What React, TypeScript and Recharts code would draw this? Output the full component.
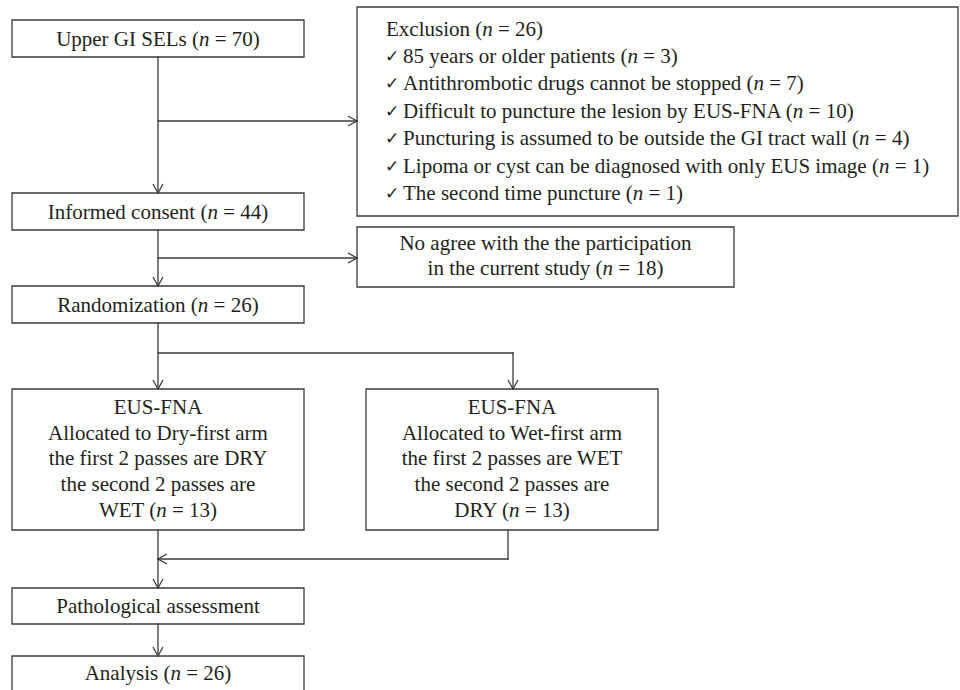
import React from 'react';
import { ComposedChart, XAxis, YAxis, Scatter, ReferenceArea, ReferenceLine } from 'recharts';

const WIDTH = 960;
const HEIGHT = 690;

// Flowchart nodes (layout in the chart's own coordinate space)
const boxes = [
  { id: 'upper', x1: 12, x2: 304, y1: 20, y2: 57 },
  { id: 'exclusion', x1: 357, x2: 958, y1: 7, y2: 216 },
  { id: 'consent', x1: 12, x2: 304, y1: 193, y2: 230 },
  { id: 'noAgree', x1: 357, x2: 734, y1: 227, y2: 287 },
  { id: 'random', x1: 12, x2: 304, y1: 286, y2: 323 },
  { id: 'dry', x1: 12, x2: 304, y1: 389, y2: 530 },
  { id: 'wet', x1: 366, x2: 658, y1: 389, y2: 530 },
  { id: 'patho', x1: 12, x2: 304, y1: 588, y2: 624 },
  { id: 'analysis', x1: 12, x2: 304, y1: 656, y2: 693 },
];

// Centered labels
const centeredTexts = [
  { x: 158, y: 38.5, text: 'Upper GI SELs (n = 70)' },
  { x: 158, y: 211.5, text: 'Informed consent (n = 44)' },
  { x: 545.5, y: 243, text: 'No agree with the the participation' },
  { x: 545.5, y: 268, text: 'in the current study (n = 18)' },
  { x: 158, y: 304.5, text: 'Randomization (n = 26)' },
  { x: 158, y: 407, text: 'EUS-FNA' },
  { x: 158, y: 433, text: 'Allocated to Dry-first arm' },
  { x: 158, y: 458, text: 'the first 2 passes are DRY' },
  { x: 158, y: 484, text: 'the second 2 passes are' },
  { x: 158, y: 510, text: 'WET (n = 13)' },
  { x: 512, y: 407, text: 'EUS-FNA' },
  { x: 512, y: 433, text: 'Allocated to Wet-first arm' },
  { x: 512, y: 458, text: 'the first 2 passes are WET' },
  { x: 512, y: 484, text: 'the second 2 passes are' },
  { x: 512, y: 510, text: 'DRY (n = 13)' },
  { x: 158, y: 606, text: 'Pathological assessment' },
  { x: 158, y: 673, text: 'Analysis (n = 26)' },
];

// Exclusion box (left aligned)
const exclusionTitle = [{ x: 386, y: 29, text: 'Exclusion (n = 26)' }];
const exclusionItems = [
  { x: 385, y: 56, text: '85 years or older patients (n = 3)' },
  { x: 385, y: 83, text: 'Antithrombotic drugs cannot be stopped (n = 7)' },
  { x: 385, y: 111, text: 'Difficult to puncture the lesion by EUS-FNA (n = 10)' },
  { x: 385, y: 138, text: 'Puncturing is assumed to be outside the GI tract wall (n = 4)' },
  { x: 385, y: 166, text: 'Lipoma or cyst can be diagnosed with only EUS image (n = 1)' },
  { x: 385, y: 193, text: 'The second time puncture (n = 1)' },
];

// Connectors
const connectors = [
  [[158, 57], [158, 193]],
  [[158, 121], [357, 121]],
  [[158, 230], [158, 286]],
  [[158, 258], [357, 258]],
  [[158, 323], [158, 389]],
  [[158, 353], [513, 353]],
  [[513, 353], [513, 389]],
  [[158, 530], [158, 588]],
  [[508, 530], [508, 559]],
  [[508, 559], [158, 559]],
  [[158, 624], [158, 656]],
];

const arrowHeads = [
  { x: 158, y: 193, dir: 'down' },
  { x: 357, y: 121, dir: 'right' },
  { x: 158, y: 286, dir: 'down' },
  { x: 357, y: 258, dir: 'right' },
  { x: 158, y: 389, dir: 'down' },
  { x: 513, y: 389, dir: 'down' },
  { x: 158, y: 559, dir: 'left' },
  { x: 158, y: 588, dir: 'down' },
  { x: 158, y: 656, dir: 'down' },
];

const INK = '#231f20';
const LINE = '#3a3a3a';
const FONT = 'Liberation Serif, DejaVu Serif, serif';
const FONT_SIZE = 21;
const textStyle: React.CSSProperties = { fontFamily: FONT, fontSize: FONT_SIZE };

function rich(s: string) {
  const segs = s.split('(n = ');
  return segs.map((seg, i) =>
    i === 0 ? (
      <tspan key={i}>{seg}</tspan>
    ) : (
      <React.Fragment key={i}>
        <tspan>(</tspan>
        <tspan fontStyle="italic" style={{ fontStyle: 'italic' }}>n</tspan>
        <tspan>{' = ' + seg}</tspan>
      </React.Fragment>
    )
  );
}

const CenterText = (props: any) => {
  const { cx, cy, payload } = props;
  return (
    <text x={cx} y={cy} dy="0.35em" textAnchor="middle" style={textStyle} fill={INK}>
      {rich(payload.text)}
    </text>
  );
};

const LeftText = (props: any) => {
  const { cx, cy, payload } = props;
  return (
    <text x={cx} y={cy} dy="0.35em" textAnchor="start" style={textStyle} fill={INK}>
      {rich(payload.text)}
    </text>
  );
};

const CheckText = (props: any) => {
  const { cx, cy, payload } = props;
  return (
    <g>
      <text x={cx} y={cy} dy="0.35em" textAnchor="start" style={{ fontFamily: 'DejaVu Sans, sans-serif', fontSize: 17 }} fill={INK}>
        {'\u2713'}
      </text>
      <text x={cx + 18} y={cy} dy="0.35em" textAnchor="start" style={textStyle} fill={INK}>
        {rich(payload.text)}
      </text>
    </g>
  );
};

const Arrow = (props: any) => {
  const { cx, cy, payload } = props;
  const L = 9;
  const h = 5;
  let d = '';
  if (payload.dir === 'down') d = `M${cx - h},${cy - L} L${cx},${cy} L${cx + h},${cy - L}`;
  else if (payload.dir === 'right') d = `M${cx - L},${cy - h} L${cx},${cy} L${cx - L},${cy + h}`;
  else d = `M${cx + L},${cy - h} L${cx},${cy} L${cx + L},${cy + h}`;
  return <path d={d} fill="none" stroke={LINE} strokeWidth={1.3} />;
};

export default function App() {
  return (
    <div style={{ position: 'absolute', left: 0, top: 0, width: WIDTH, height: HEIGHT, background: '#ffffff' }}>
      <ComposedChart width={WIDTH} height={HEIGHT} margin={{ top: 0, right: 0, bottom: 0, left: 0 }}>
        <XAxis type="number" dataKey="x" domain={[0, WIDTH]} hide allowDataOverflow />
        <YAxis type="number" dataKey="y" domain={[0, HEIGHT]} reversed hide allowDataOverflow />
        {boxes.map((b) => (
          <ReferenceArea
            key={b.id}
            x1={b.x1}
            x2={b.x2}
            y1={b.y1}
            y2={b.y2}
            fill="#ffffff"
            fillOpacity={1}
            stroke={LINE}
            strokeWidth={1.3}
            ifOverflow="visible"
          />
        ))}
        {connectors.map((c, i) => (
          <ReferenceLine
            key={'c' + i}
            segment={[{ x: c[0][0], y: c[0][1] }, { x: c[1][0], y: c[1][1] }]}
            stroke={LINE}
            strokeWidth={1.3}
            strokeLinecap="square"
            ifOverflow="visible"
          />
        ))}
        <Scatter data={arrowHeads} shape={Arrow} isAnimationActive={false} />
        <Scatter data={centeredTexts} shape={CenterText} isAnimationActive={false} />
        <Scatter data={exclusionTitle} shape={LeftText} isAnimationActive={false} />
        <Scatter data={exclusionItems} shape={CheckText} isAnimationActive={false} />
      </ComposedChart>
    </div>
  );
}
